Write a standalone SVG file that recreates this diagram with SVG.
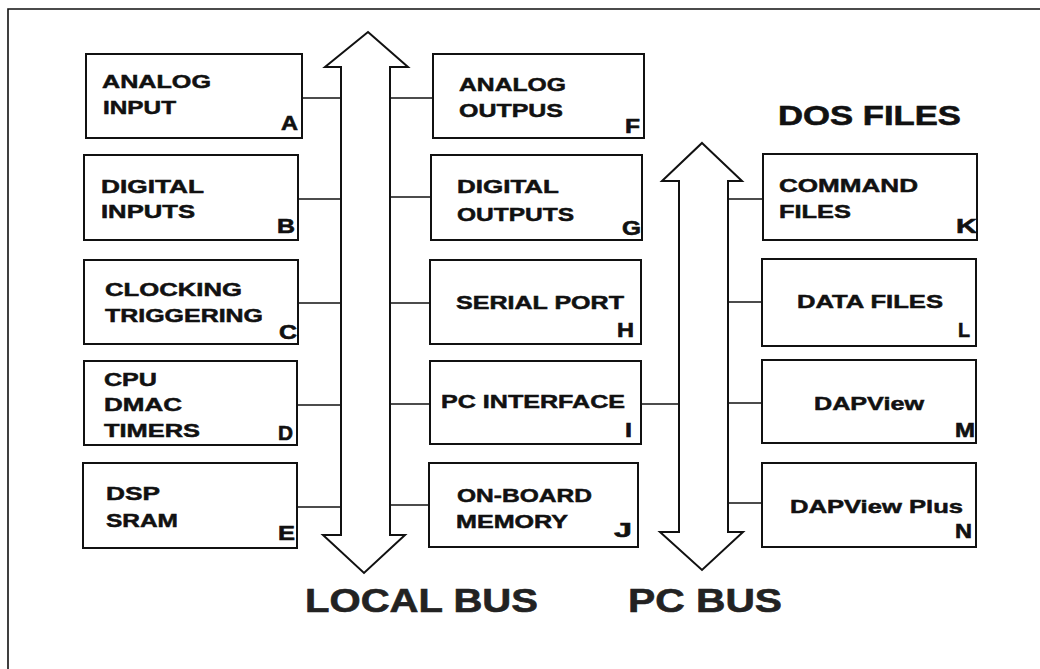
<svg xmlns="http://www.w3.org/2000/svg" width="1040" height="669" viewBox="0 0 1040 669">
<style>
.box{fill:#fff;stroke:#111;stroke-width:2}
.bus{fill:#fff;stroke:#111;stroke-width:2;stroke-linejoin:miter}
.con{stroke:#111;stroke-width:1.6;fill:none}
.t{font-family:"Liberation Sans",Arial,sans-serif;font-weight:bold;font-size:19px;fill:#111;stroke:#111;stroke-width:0.5}
.l{font-family:"Liberation Sans",Arial,sans-serif;font-weight:bold;font-size:20px;fill:#111;stroke:#111;stroke-width:0.6}
.big{font-family:"Liberation Sans",Arial,sans-serif;font-weight:bold;font-size:33px;fill:#222;stroke:#222;stroke-width:0.6}
.hd{font-family:"Liberation Sans",Arial,sans-serif;font-weight:bold;font-size:28px;fill:#111;stroke:#111;stroke-width:0.6}
</style>
<rect width="1040" height="669" fill="#fff"/>
<path d="M8,669 L8,9 L1040,9" fill="none" stroke="#111" stroke-width="1.6"/>

<g id="connectors">
<line class="con" x1="302" y1="98" x2="342" y2="98"/>
<line class="con" x1="298" y1="199" x2="342" y2="199"/>
<line class="con" x1="298" y1="303" x2="342" y2="303"/>
<line class="con" x1="297" y1="405" x2="342" y2="405"/>
<line class="con" x1="297" y1="507" x2="341" y2="507"/>
<line class="con" x1="390" y1="98" x2="433" y2="98"/>
<line class="con" x1="390" y1="197" x2="431" y2="197"/>
<line class="con" x1="390" y1="303" x2="430" y2="303"/>
<line class="con" x1="390" y1="404" x2="430" y2="404"/>
<line class="con" x1="641" y1="404" x2="679" y2="404"/>
<line class="con" x1="390" y1="505" x2="429" y2="505"/>
<line class="con" x1="728" y1="199" x2="763" y2="199"/>
<line class="con" x1="728" y1="302" x2="762" y2="302"/>
<line class="con" x1="728" y1="403" x2="762" y2="403"/>
<line class="con" x1="727" y1="503" x2="762" y2="503"/>
</g>

<g id="localbus">
<polygon class="bus" points="368,32 408,67 390,67 390,535 405,535 364,573 323,535 341,535 341,67 325,67"/>
<text class="big" x="305" y="612" textLength="233" lengthAdjust="spacingAndGlyphs">LOCAL BUS</text>
</g>
<g id="pcbus">
<polygon class="bus" points="702,143 742,181 728,181 728,532 743,532 702,570 660,532 679,532 679,181 662,181"/>
<text class="big" x="628" y="612" textLength="154" lengthAdjust="spacingAndGlyphs">PC BUS</text>
</g>

<g id="nodeA">
<rect class="box" x="86" y="54" width="216" height="84"/>
<text class="t" x="102" y="88" textLength="109" lengthAdjust="spacingAndGlyphs">ANALOG</text>
<text class="t" x="103" y="114" textLength="73" lengthAdjust="spacingAndGlyphs">INPUT</text>
<text class="l" x="281" y="130" textLength="17" lengthAdjust="spacingAndGlyphs">A</text>
</g>
<g id="nodeB">
<rect class="box" x="84" y="155" width="214" height="85"/>
<text class="t" x="101" y="193" textLength="103" lengthAdjust="spacingAndGlyphs">DIGITAL</text>
<text class="t" x="101" y="218" textLength="94" lengthAdjust="spacingAndGlyphs">INPUTS</text>
<text class="l" x="277" y="233" textLength="18" lengthAdjust="spacingAndGlyphs">B</text>
</g>
<g id="nodeC">
<rect class="box" x="84" y="260" width="214" height="84"/>
<text class="t" x="105" y="296" textLength="137" lengthAdjust="spacingAndGlyphs">CLOCKING</text>
<text class="t" x="105" y="322" textLength="158" lengthAdjust="spacingAndGlyphs">TRIGGERING</text>
<text class="l" x="279" y="339" textLength="18" lengthAdjust="spacingAndGlyphs">C</text>
</g>
<g id="nodeD">
<rect class="box" x="84" y="361" width="213" height="84"/>
<text class="t" x="104" y="386" textLength="53" lengthAdjust="spacingAndGlyphs">CPU</text>
<text class="t" x="104" y="411" textLength="78" lengthAdjust="spacingAndGlyphs">DMAC</text>
<text class="t" x="104" y="437" textLength="96" lengthAdjust="spacingAndGlyphs">TIMERS</text>
<text class="l" x="278" y="440" textLength="15" lengthAdjust="spacingAndGlyphs">D</text>
</g>
<g id="nodeE">
<rect class="box" x="83" y="463" width="214" height="85"/>
<text class="t" x="106" y="500" textLength="54" lengthAdjust="spacingAndGlyphs">DSP</text>
<text class="t" x="106" y="527" textLength="72" lengthAdjust="spacingAndGlyphs">SRAM</text>
<text class="l" x="278" y="540" textLength="17" lengthAdjust="spacingAndGlyphs">E</text>
</g>

<g id="nodeF">
<rect class="box" x="433" y="54" width="211" height="84"/>
<text class="t" x="459" y="91" textLength="107" lengthAdjust="spacingAndGlyphs">ANALOG</text>
<text class="t" x="459" y="117" textLength="104" lengthAdjust="spacingAndGlyphs">OUTPUS</text>
<text class="l" x="625" y="133" textLength="15" lengthAdjust="spacingAndGlyphs">F</text>
</g>
<g id="nodeG">
<rect class="box" x="431" y="155" width="211" height="85"/>
<text class="t" x="457" y="193" textLength="102" lengthAdjust="spacingAndGlyphs">DIGITAL</text>
<text class="t" x="457" y="221" textLength="117" lengthAdjust="spacingAndGlyphs">OUTPUTS</text>
<text class="l" x="622" y="235" textLength="19" lengthAdjust="spacingAndGlyphs">G</text>
</g>
<g id="nodeH">
<rect class="box" x="430" y="260" width="211" height="84"/>
<text class="t" x="456" y="309" textLength="168" lengthAdjust="spacingAndGlyphs">SERIAL PORT</text>
<text class="l" x="617" y="337" textLength="17" lengthAdjust="spacingAndGlyphs">H</text>
</g>
<g id="nodeI">
<rect class="box" x="430" y="361" width="211" height="83"/>
<text class="t" x="441" y="408" textLength="184" lengthAdjust="spacingAndGlyphs">PC INTERFACE</text>
<text class="l" x="625" y="437" textLength="7" lengthAdjust="spacingAndGlyphs">I</text>
</g>
<g id="nodeJ">
<rect class="box" x="429" y="463" width="209" height="84"/>
<text class="t" x="457" y="502" textLength="135" lengthAdjust="spacingAndGlyphs">ON-BOARD</text>
<text class="t" x="456" y="528" textLength="112" lengthAdjust="spacingAndGlyphs">MEMORY</text>
<text class="l" x="614" y="537" textLength="18" lengthAdjust="spacingAndGlyphs">J</text>
</g>

<g id="dosfiles">
<text class="hd" x="778" y="125" textLength="183" lengthAdjust="spacingAndGlyphs">DOS FILES</text>
</g>
<g id="nodeK">
<rect class="box" x="763" y="154" width="214" height="86"/>
<text class="t" x="779" y="192" textLength="139" lengthAdjust="spacingAndGlyphs">COMMAND</text>
<text class="t" x="779" y="218" textLength="72" lengthAdjust="spacingAndGlyphs">FILES</text>
<text class="l" x="956" y="233" textLength="21" lengthAdjust="spacingAndGlyphs">K</text>
</g>
<g id="nodeL">
<rect class="box" x="762" y="259" width="214" height="87"/>
<text class="t" x="797" y="308" textLength="146" lengthAdjust="spacingAndGlyphs">DATA FILES</text>
<text class="l" x="958" y="337" textLength="12" lengthAdjust="spacingAndGlyphs">L</text>
</g>
<g id="nodeM">
<rect class="box" x="762" y="360" width="214" height="83"/>
<text class="t" x="814" y="410" textLength="110" lengthAdjust="spacingAndGlyphs">DAPView</text>
<text class="l" x="955" y="437" textLength="20" lengthAdjust="spacingAndGlyphs">M</text>
</g>
<g id="nodeN">
<rect class="box" x="762" y="463" width="214" height="84"/>
<text class="t" x="790" y="513" textLength="173" lengthAdjust="spacingAndGlyphs">DAPView Plus</text>
<text class="l" x="955" y="538" textLength="17" lengthAdjust="spacingAndGlyphs">N</text>
</g>
</svg>
